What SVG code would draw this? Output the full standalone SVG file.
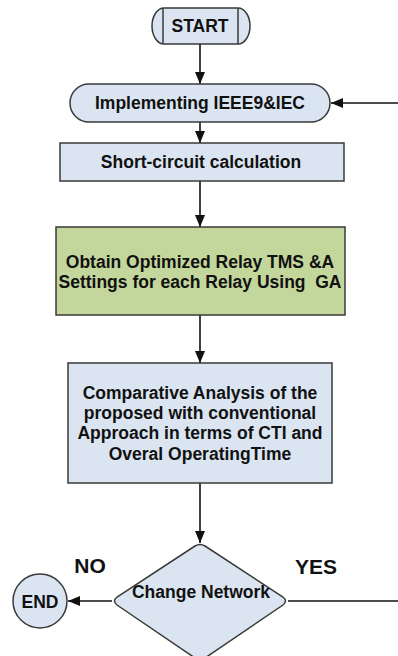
<svg xmlns="http://www.w3.org/2000/svg" width="398" height="656" viewBox="0 0 398 656">
  <style>
    .box { fill: #dbe5f1; stroke: #3a3a3a; stroke-width: 1.5; }
    .green { fill: #c3d69b; stroke: #3a3a3a; stroke-width: 1.5; }
    .txt { font-family: "Liberation Sans", Arial, sans-serif; font-weight: bold; font-size: 17.5px; fill: #111; text-anchor: middle; white-space: pre; }
    .lbl { font-family: "Liberation Sans", Arial, sans-serif; font-weight: bold; font-size: 21px; fill: #111; text-anchor: middle; }
    .conn { fill: none; stroke: #111; stroke-width: 1.6; }
  </style>
  <defs>
    <marker id="arrow" viewBox="0 0 12 10" refX="12" refY="5" markerWidth="12" markerHeight="10" markerUnits="userSpaceOnUse" orient="auto">
      <path d="M0,0 L12,5 L0,10 z" fill="#111"/>
    </marker>
  </defs>
  <rect width="398" height="656" fill="#ffffff"/>

  <g id="connectors">
    <line class="conn" x1="200" y1="44" x2="200" y2="84" marker-end="url(#arrow)"/>
    <line class="conn" x1="398" y1="103" x2="331" y2="103" marker-end="url(#arrow)"/>
    <line class="conn" x1="200" y1="122" x2="200" y2="143" marker-end="url(#arrow)"/>
    <line class="conn" x1="200" y1="181" x2="200" y2="227" marker-end="url(#arrow)"/>
    <line class="conn" x1="200" y1="315" x2="200" y2="363" marker-end="url(#arrow)"/>
    <line class="conn" x1="200" y1="483" x2="200" y2="543" marker-end="url(#arrow)"/>
    <line class="conn" x1="112" y1="601" x2="68" y2="601" marker-end="url(#arrow)"/>
    <line class="conn" x1="288" y1="601" x2="398" y2="601"/>
  </g>

  <g id="start">
    <rect class="box" x="152" y="8" width="98" height="36" rx="12" ry="18"/>
    <line x1="163" y1="8" x2="163" y2="44" stroke="#3a3a3a" stroke-width="1.5"/>
    <line x1="238" y1="8" x2="238" y2="44" stroke="#3a3a3a" stroke-width="1.5"/>
    <text class="txt" x="200" y="32">START</text>
  </g>

  <g id="implementing">
    <rect class="box" x="70" y="84" width="260" height="38" rx="19" ry="19"/>
    <text class="txt" x="200" y="109">Implementing IEEE9&amp;IEC</text>
  </g>

  <g id="short-circuit">
    <rect class="box" x="60" y="143" width="284" height="38"/>
    <text class="txt" x="201" y="168">Short-circuit calculation</text>
  </g>

  <g id="optimize">
    <rect class="green" x="56" y="227" width="289" height="88"/>
    <text class="txt" x="200" y="268">Obtain Optimized Relay TMS &amp;A</text>
    <text class="txt" x="200" y="288">Settings for each Relay Using  GA</text>
  </g>

  <g id="comparative">
    <rect class="box" x="68" y="363" width="264" height="120"/>
    <text class="txt" x="200" y="399">Comparative Analysis of the</text>
    <text class="txt" x="200" y="419">proposed with conventional</text>
    <text class="txt" x="200" y="439">Approach in terms of CTI and</text>
    <text class="txt" x="200" y="460">Overal OperatingTime</text>
  </g>

  <g id="change-network">
    <path class="box" d="M195,546 Q200,543 205,546 L283,597 Q288,601 283,605 L205,658 Q200,662 195,658 L117,605 Q112,601 117,597 Z"/>
    <text class="txt" x="201" y="598">Change Network</text>
  </g>

  <g id="end">
    <circle class="box" cx="40" cy="601" r="27"/>
    <text class="txt" x="40" y="608">END</text>
  </g>

  <g id="labels">
    <text class="lbl" x="90" y="573">NO</text>
    <text class="lbl" x="316" y="574">YES</text>
  </g>
</svg>
